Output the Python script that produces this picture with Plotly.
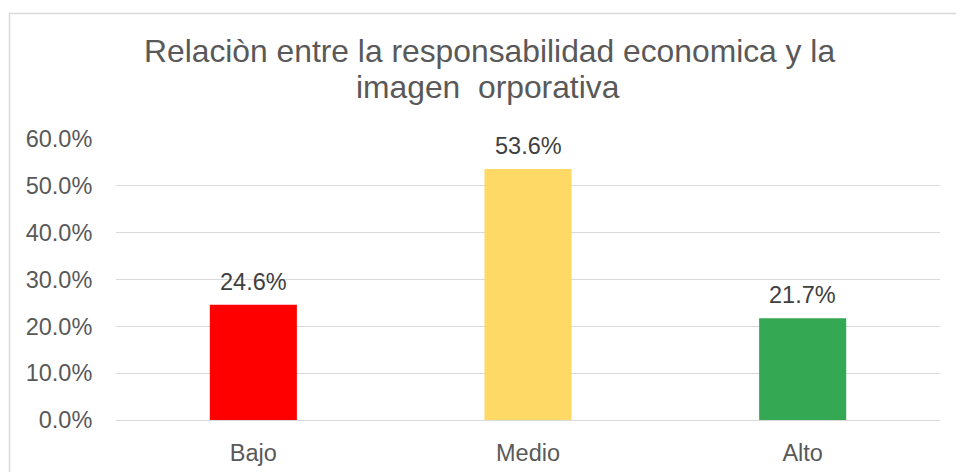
import plotly.graph_objects as go

categories = ["Bajo", "Medio", "Alto"]
values = [0.246, 0.536, 0.217]
labels = ["24.6%", "53.6%", "21.7%"]
colors = ["#FF0000", "#FFD966", "#34A853"]
y_ticks = [0, 0.1, 0.2, 0.3, 0.4, 0.5, 0.6]
y_ticktext = ["0.0%", "10.0%", "20.0%", "30.0%", "40.0%", "50.0%", "60.0%"]
title_lines = ["Relaciòn entre la responsabilidad economica y la", "imagen  orporativa"]

FONT = "Liberation Sans, Arial, sans-serif"

fig = go.Figure()
fig.add_trace(go.Bar(
    x=categories, y=values, marker=dict(color=colors, line=dict(width=0)),
    width=0.317, hoverinfo="skip",
))

for c, v, t in zip(categories, values, labels):
    fig.add_annotation(x=c, y=v, text=t, showarrow=False, yanchor="bottom",
                       yshift=8, font=dict(family=FONT, size=23.5, color="#404040"))

W, H = 956, 472
L, R, T, B = 116, 16, 139, 52
pw, ph = W - L - R, H - T - B

def px_x(p):
    return (p - L) / pw

def px_y(p):
    return (H - B - p) / ph

fig.add_annotation(xref="paper", yref="paper", x=px_x(489.5), y=px_y(63), text=title_lines[0],
                   showarrow=False, xanchor="center", yanchor="bottom", yshift=-8,
                   font=dict(family=FONT, size=31.8, color="#595959"))
fig.add_annotation(xref="paper", yref="paper", x=px_x(488), y=px_y(99), text=title_lines[1],
                   showarrow=False, xanchor="center", yanchor="bottom", yshift=-8,
                   font=dict(family=FONT, size=31.8, color="#595959"))

fig.add_shape(type="rect", xref="paper", yref="paper",
              x0=px_x(9.5), x1=px_x(1000), y0=px_y(520), y1=px_y(13.5),
              line=dict(color="#D9D9D9", width=1.5), fillcolor="rgba(0,0,0,0)", layer="below")

fig.update_layout(
    width=W, height=H,
    margin=dict(l=L, r=R, t=T, b=B, pad=0, autoexpand=False),
    paper_bgcolor="white", plot_bgcolor="white",
    showlegend=False,
    font=dict(family=FONT, size=23.5, color="#595959"),
    xaxis=dict(showgrid=False, showline=False, zeroline=False, ticks="outside",
               ticklen=12, tickcolor="rgba(0,0,0,0)", automargin=False,
               tickfont=dict(family=FONT, size=23.5, color="#595959")),
    yaxis=dict(range=[0, 0.6], tickvals=y_ticks, ticktext=y_ticktext, automargin=False,
               showgrid=True, gridcolor="#D9D9D9", gridwidth=1.3,
               zeroline=True, zerolinecolor="#D9D9D9", zerolinewidth=1.3,
               showline=False, ticks="outside", ticklen=18, tickcolor="rgba(0,0,0,0)",
               tickfont=dict(family=FONT, size=23.5, color="#595959")),
)

fig.write_html("out.html")
